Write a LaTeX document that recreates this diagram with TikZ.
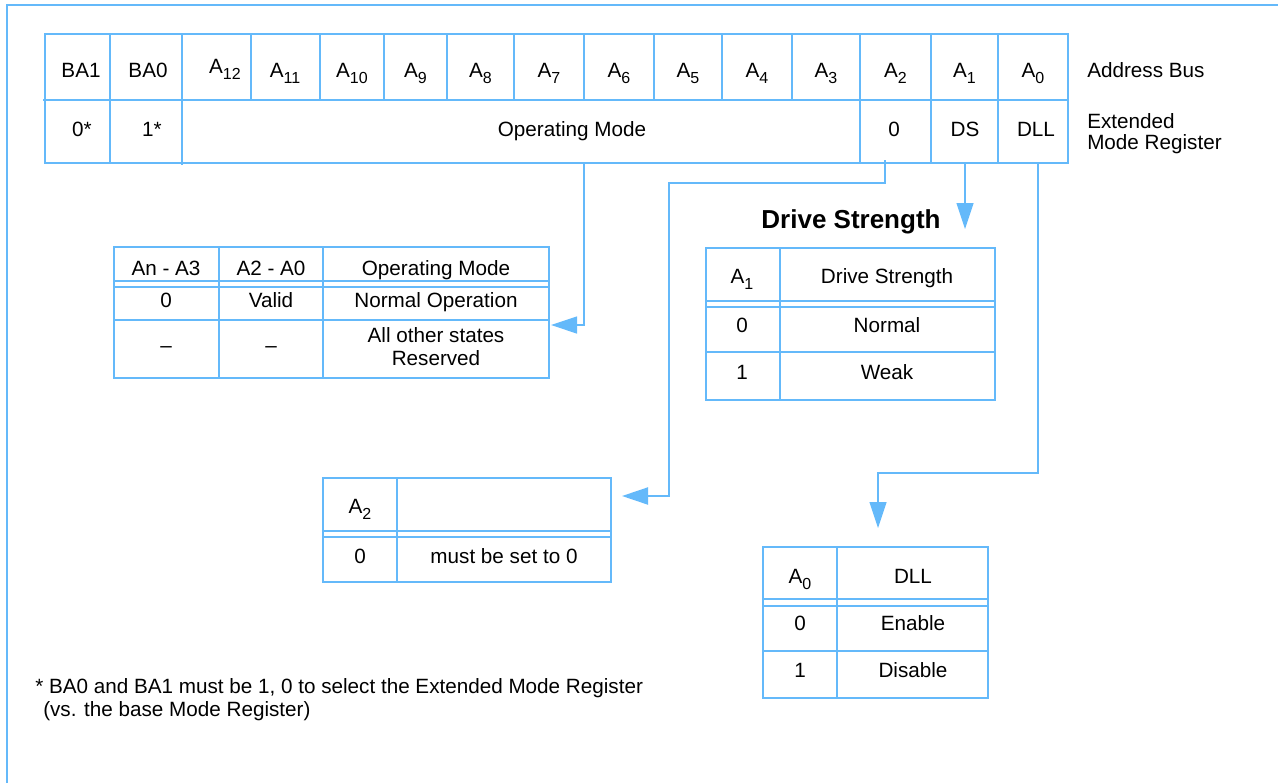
\documentclass[tikz,border=0pt]{standalone}
\usepackage{fontspec}
\setmainfont{Liberation Sans}
\usetikzlibrary{arrows.meta}
\definecolor{lb}{RGB}{100,185,250}
\newcommand\Asb[1]{A\raisebox{-0.3em}{\fontsize{12}{12}\selectfont #1}}
\begin{document}
\begin{tikzpicture}[x=0.75pt,y=-0.75pt,
  lbl/.style={inner sep=0pt, anchor=base, font=\fontsize{15.5}{18}\selectfont},
  lblw/.style={lbl, anchor=base west},
  heading/.style={inner sep=0pt, anchor=base, font=\fontsize{19.5}{22}\selectfont\bfseries},
  frameline/.style={draw=lb, line width=1.2pt},
  heavy/.style={draw=lb, line width=1.5pt},
  light/.style={draw=lb, line width=0.8pt},
  conn/.style={draw=lb, line width=0.9pt, -{Triangle[length=19.5pt,width=12.75pt]}},
  connthick/.style={conn, line width=1.5pt},
]
\useasboundingbox (0,0) rectangle (1278,783);
% outer frame (left and top only)
\draw[frameline] (7,783) -- (7,5) -- (1278,5);

% ---------------- register ----------------
\foreach \x in {110,182,251,320,384,447,514,584,654,722,792,860,931,998}
  \draw[light] (\x,34) -- (\x,100);
\foreach \x in {110,860,931,998}
  \draw[light] (\x,100) -- (\x,163);
\draw[light] (182,100) -- (182,165);
\draw[heavy] (45,34) rectangle (1068,163);
\draw[heavy] (43,100) -- (1068,100);

\node[lbl] (ba1) at (81,77) {BA1};
\node[lbl] (ba0) at (148,77) {BA0};
\node[lbl] (a12) at (225,73) {\Asb{12}};
\node[lbl] (a11) at (285,77) {\Asb{11}};
\node[lbl] (a10) at (352,77) {\Asb{10}};
\node[lbl] (a9) at (415.5,77) {\Asb{9}};
\node[lbl] (a8) at (480.5,77) {\Asb{8}};
\node[lbl] (a7) at (549,77) {\Asb{7}};
\node[lbl] (a6) at (619,77) {\Asb{6}};
\node[lbl] (a5) at (688,77) {\Asb{5}};
\node[lbl] (a4) at (757,77) {\Asb{4}};
\node[lbl] (a3) at (826,77) {\Asb{3}};
\node[lbl] (a2) at (895.5,77) {\Asb{2}};
\node[lbl] (a1) at (964.5,77) {\Asb{1}};
\node[lbl] (a0) at (1033,77) {\Asb{0}};

\node[lbl] (v0) at (82,136) {0*};
\node[lbl] (v1) at (152,136) {1*};
\node[lbl] (vom) at (572,136) {Operating Mode};
\node[lbl] (vz) at (894,136) {0};
\node[lbl] (vds) at (965,136) {DS};
\node[lbl] (vdll) at (1036,136) {DLL};

\node[lblw] (abus) at (1087,77) {Address Bus};
\node[lblw] (emr1) at (1087,128) {Extended};
\node[lblw] (emr2) at (1087,149) {Mode Register};

% ---------------- operating mode table ----------------
\draw[heavy] (114,247) rectangle (549,378);
\draw[heavy] (114,281) -- (549,281);
\draw[heavy] (114,287) -- (549,287);
\draw[heavy] (114,320) -- (549,320);
\draw[heavy] (219,247) -- (219,378);
\draw[heavy] (323,247) -- (323,378);
\node[lbl] (oh1) at (166,275) {An - A3};
\node[lbl] (oh2) at (271,275) {A2 - A0};
\node[lbl] (oh3) at (436,275) {Operating Mode};
\node[lbl] (or1) at (166,307) {0};
\node[lbl] (or2) at (271,307) {Valid};
\node[lbl] (or3) at (436,307) {Normal Operation};
\node[lbl] (os1) at (166,352) {--};
\node[lbl] (os2) at (271,352) {--};
\node[lbl] (os3) at (436,342) {All other states};
\node[lbl] (os4) at (436,365) {Reserved};

% ---------------- drive strength table ----------------
\node[heading] (dshead) at (851,228) {Drive Strength};
\draw[heavy] (706,248) rectangle (995,400);
\draw[heavy] (706,301) -- (995,301);
\draw[heavy] (706,307) -- (995,307);
\draw[heavy] (706,352) -- (995,352);
\draw[heavy] (780,248) -- (780,400);
\node[lbl] (dh1) at (742,283) {\Asb{1}};
\node[lbl] (dh2) at (887,283) {Drive Strength};
\node[lbl] (dr1) at (742,332) {0};
\node[lbl] (dr2) at (887,332) {Normal};
\node[lbl] (ds1) at (742,379) {1};
\node[lbl] (ds2) at (887,379) {Weak};

% ---------------- A2 table ----------------
\draw[heavy] (323,478) rectangle (611,582);
\draw[heavy] (323,531) -- (611,531);
\draw[heavy] (323,537) -- (611,537);
\draw[heavy] (397,478) -- (397,582);
\node[lbl] (ah1) at (360,513) {\Asb{2}};
\node[lbl] (ar1) at (360,563) {0};
\node[lbl] (ar2) at (504,563) {must be set to 0};

% ---------------- DLL table ----------------
\draw[heavy] (763,547) rectangle (988,698);
\draw[heavy] (763,599) -- (988,599);
\draw[heavy] (763,606) -- (988,606);
\draw[heavy] (763,651) -- (988,651);
\draw[heavy] (837,547) -- (837,698);
\node[lbl] (lh1) at (800,583) {\Asb{0}};
\node[lbl] (lh2) at (913,583) {DLL};
\node[lbl] (lr1) at (800,630) {0};
\node[lbl] (lr2) at (913,630) {Enable};
\node[lbl] (ls1) at (800,677) {1};
\node[lbl] (ls2) at (913,677) {Disable};

% ---------------- footnote ----------------
\node[lblw] (fn1) at (35,693) {* BA0 and BA1 must be 1, 0 to select the Extended Mode Register};
\node[lblw] (fn2) at (43,716) {(vs. the base Mode Register)};

% ---------------- connectors ----------------
\coordinate (omsrc) at (584,163);
\coordinate (omtip) at (551,325);
\coordinate (a2src) at (885,160);
\coordinate (a2bend) at (669,183);
\coordinate (a2tip) at (622,496);
\coordinate (dssrc) at (965,163);
\coordinate (dstip) at (965,229);
\coordinate (dllsrc) at (1038,163);
\coordinate (dllbend) at (878,473);
\coordinate (dlltip) at (878,528);

\draw[conn] (omsrc) |- (omtip);
\draw[connthick] (a2src) |- (a2bend) |- (a2tip);
\draw[conn] (dssrc) -- (dstip);
\draw[conn] (dllsrc) |- (dllbend) -- (dlltip);
\end{tikzpicture}
\end{document}
